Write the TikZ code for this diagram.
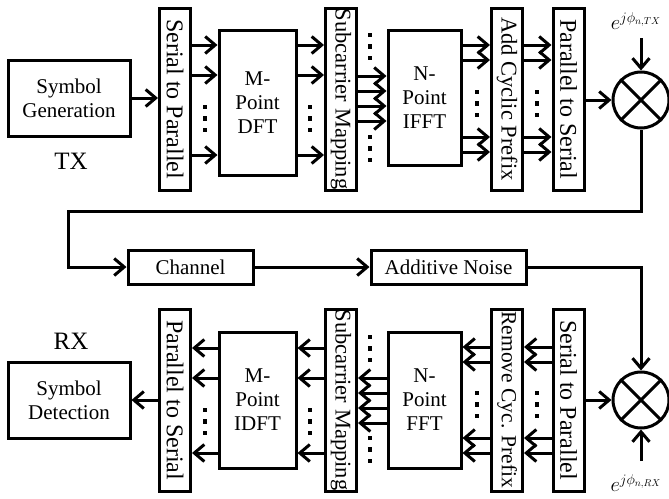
\documentclass[tikz,border=0pt]{standalone}
\usepackage{fontspec}
\setmainfont{Liberation Serif}
\usetikzlibrary{arrows.meta}

% three small square dots stacked vertically, centred on x, first at y
\newcommand{\dotcol}[2]{%
  \foreach \k in {0,1,2}{\fill (#1-2,#2+11.5*\k-2.4) rectangle ++(4,4.8);}}

\tikzset{
  blk/.style={draw, line width=3pt, inner sep=0pt, align=center,
    font=\fontsize{21}{24}\selectfont},
  bar/.style={draw, line width=3pt, inner sep=0pt,
    minimum width=31, minimum height=182},
  arr/.style={line width=3pt, -{Straight Barb[length=10pt,width=17pt]}},
  wire/.style={line width=3pt},
  mixer/.style={draw, circle, line width=3pt, minimum size=56, inner sep=0pt},
  phase/.style={font=\fontsize{20}{20}\selectfont},
}

\begin{document}
\begin{tikzpicture}[x=1pt,y=-1pt]
\useasboundingbox (0,0) rectangle (669,498);

% ---------------- transmitter ----------------
\node[blk, minimum width=122, minimum height=76] (sg) at (69,98) {Symbol\\Generation};
\node[font=\fontsize{25}{25}\selectfont] (tx) at (71,161) {TX};

\node[bar] (s2pa) at (175,99) {\fontsize{24}{24}\selectfont\rotatebox{-90}{Serial to Parallel}};
\node[blk, minimum width=77, minimum height=145] (dft) at (257.5,102.5) {M-\\Point\\DFT};
\node[bar] (sma) at (341,99) {\fontsize{22.5}{22.5}\selectfont\rotatebox{-90}{Subcarrier Mapping}};
\node[blk, minimum width=73, minimum height=135] (ifft) at (424.5,97.5) {N-\\Point\\IFFT};
\node[bar] (acp) at (507,99) {\fontsize{22.5}{22.5}\selectfont\rotatebox{-90}{Add Cyclic Prefix}};
\node[bar] (p2sa) at (568.5,99) {\fontsize{24}{24}\selectfont\rotatebox{-90}{Parallel to Serial}};
\node[mixer] (mxa) at (641,100) {};
\draw[wire] (mxa.north west) -- (mxa.south east) (mxa.north east) -- (mxa.south west);
\node[phase] (pha) at (636,21) {$e^{j\phi_{n,TX}}$};

\draw[arr] (sg.east) -- (s2pa.west |- sg.east);
\foreach \yy in {45,75,155}{
  \draw[arr] (s2pa.east |- 0,\yy) -- (dft.west |- 0,\yy);
  \draw[arr] (dft.east |- 0,\yy) -- (sma.west |- 0,\yy);
}
\foreach \yy in {76,91,106,121}{
  \draw[arr] (sma.east |- 0,\yy) -- (ifft.west |- 0,\yy);
}
\foreach \yy in {45,60,137,152}{
  \draw[arr] (ifft.east |- 0,\yy) -- (acp.west |- 0,\yy);
  \draw[arr] (acp.east |- 0,\yy) -- (p2sa.west |- 0,\yy);
}
\draw[arr] (p2sa.east |- mxa.west) -- (mxa.west);
\draw[arr] (mxa.north |- 0,38) -- (mxa.north);

\dotcol{205}{107}
\dotcol{310}{107}
\dotcol{370}{35}
\dotcol{370}{137}
\dotcol{477}{92}
\dotcol{537}{92}

% ---------------- channel ----------------
\node[blk, minimum width=125, minimum height=34] (ch) at (190.5,267) {Channel};
\node[blk, minimum width=155, minimum height=34] (an) at (448.5,267) {Additive Noise};
\coordinate (turn) at (68,211);
\draw[arr] (mxa.south) |- (turn) |- (ch.west);
\draw[arr] (ch.east) -- (an.west);

% ---------------- receiver ----------------
\node[blk, minimum width=122, minimum height=76] (sd) at (69,400) {Symbol\\Detection};
\node[font=\fontsize{25}{25}\selectfont] (rx) at (71,341) {RX};

\node[bar] (p2sb) at (175,400) {\fontsize{24}{24}\selectfont\rotatebox{-90}{Parallel to Serial}};
\node[blk, minimum width=77, minimum height=136] (idft) at (257.5,400) {M-\\Point\\IDFT};
\node[bar] (smb) at (341,400) {\fontsize{22.5}{22.5}\selectfont\rotatebox{-90}{Subcarrier Mapping}};
\node[blk, minimum width=73, minimum height=136] (fft) at (424.5,400) {N-\\Point\\FFT};
\node[bar] (rcp) at (507,400) {\fontsize{21.5}{21.5}\selectfont\rotatebox{-90}{Remove Cyc. Prefix}};
\node[bar] (s2pb) at (568.5,400) {\fontsize{24}{24}\selectfont\rotatebox{-90}{Serial to Parallel}};
\node[mixer] (mxb) at (641,400) {};
\draw[wire] (mxb.north west) -- (mxb.south east) (mxb.north east) -- (mxb.south west);
\node[phase] (phb) at (636,483) {$e^{j\phi_{n,RX}}$};

\draw[arr] (an.east) -| (mxb.north);
\draw[arr] (mxb.south |- 0,461) -- (mxb.south);
\draw[arr] (s2pb.east |- mxb.west) -- (mxb.west);

\foreach \yy in {347,362,438,453}{
  \draw[arr] (s2pb.west |- 0,\yy) -- (rcp.east |- 0,\yy);
  \draw[arr] (rcp.west |- 0,\yy) -- (fft.east |- 0,\yy);
}
\foreach \yy in {378,393,408,423}{
  \draw[arr] (fft.west |- 0,\yy) -- (smb.east |- 0,\yy);
}
\foreach \yy in {348,378,453}{
  \draw[arr] (smb.west |- 0,\yy) -- (idft.east |- 0,\yy);
  \draw[arr] (idft.west |- 0,\yy) -- (p2sb.east |- 0,\yy);
}
\draw[arr] (p2sb.west |- sd.east) -- (sd.east);

\dotcol{205}{410}
\dotcol{310}{410}
\dotcol{370}{337}
\dotcol{370}{438}
\dotcol{477}{393}
\dotcol{537}{393}
\end{tikzpicture}
\end{document}
